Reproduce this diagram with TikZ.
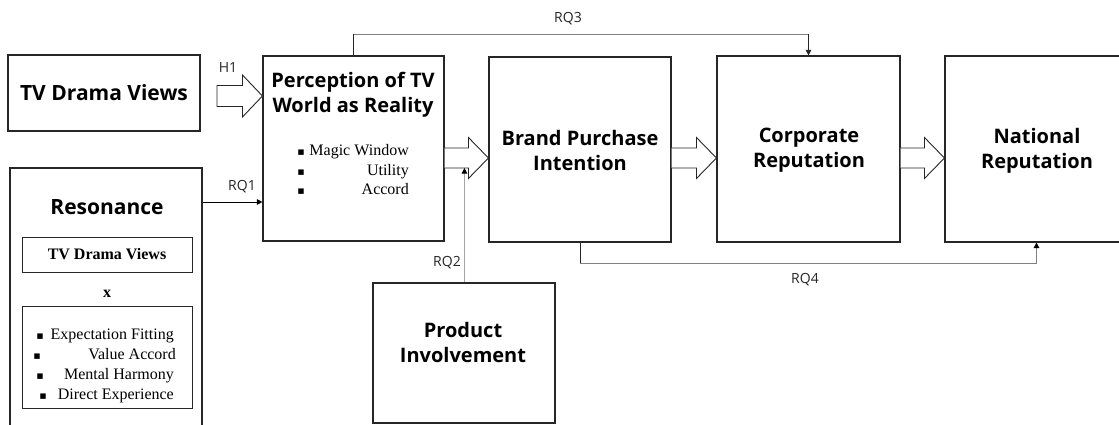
\documentclass[tikz,border=0pt]{standalone}
\usepackage{fontspec}
\setmainfont{Liberation Serif}
\newfontfamily\sansf{Open Sans}
\newfontfamily\symf{DejaVu Sans}
\usetikzlibrary{arrows.meta,calc}
\newcommand\blkarrow[2]{%
  \draw[blk] ($(#1)+(0,-10)$) -- ($(#2)+(-20,-10)$) -- ($(#2)+(-20,-20.5)$) -- (#2)
    -- ($(#2)+(-20,20.5)$) -- ($(#2)+(-20,10)$) -- ($(#1)+(0,10)$);}
\begin{document}
\begin{tikzpicture}[x=1pt,y=-1pt,
  box/.style={draw=black!85, line width=1.1pt, fill=white, inner sep=0pt},
  ttl/.style={font=\sansf\bfseries\fontsize{20}{25}\selectfont, align=center, inner sep=0pt},
  lab/.style={font=\sansf\fontsize{14}{16}\selectfont, inner sep=0pt, text=black!85},
  itm/.style={font=\fontsize{16}{18}\selectfont, inner sep=0pt, anchor=east, text height=0.7em, text depth=0.2em},
  bul/.style={font=\symf\fontsize{11}{11}\selectfont, inner sep=0pt},
  blk/.style={draw=black!85, line width=0.9pt, fill=white, line join=miter},
  con/.style={line width=0.9pt},
  tip/.style={-{Triangle[width=5.5pt,length=5.5pt]}}
]
\useasboundingbox (0,0) rectangle (1119,425);

% boxes
\node[box, minimum width=192pt, minimum height=76pt] (tv) at (104,93) {};
\node[box, minimum width=192pt, minimum height=284pt] (res) at (106,310) {};
\node[box, minimum width=170pt, minimum height=35pt, line width=0.9pt] (resin1) at (107,254.5) {};
\node[box, minimum width=170pt, minimum height=102pt, line width=0.9pt] (resin2) at (107,357) {};
\node[box, minimum width=181pt, minimum height=185pt] (perc) at (353.5,148.5) {};
\node[box, minimum width=182pt, minimum height=185pt] (brand) at (580,149.5) {};
\node[box, minimum width=183pt, minimum height=186pt] (corp) at (808.5,149) {};
\node[box, minimum width=183pt, minimum height=186pt] (nat) at (1036.5,149) {};
\node[box, minimum width=182pt, minimum height=140pt] (prod) at (464,353) {};

% titles
\node[ttl, font=\sansf\bfseries\fontsize{21}{25}\selectfont] (tvt) at (104,93) {TV Drama Views};
\node[ttl, font=\sansf\bfseries\fontsize{21}{25}\selectfont] (rest) at (107,207) {Resonance};
\node[ttl] (perct) at (353,95) {Perception of TV\\World as Reality};
\node[ttl] (brandt) at (580,150.5) {Brand Purchase\\Intention};
\node[ttl] (corpt) at (809,150.5) {Corporate\\Reputation};
\node[ttl] (natt) at (1037,150.5) {National\\Reputation};
\node[ttl] (prodt) at (463,342.5) {Product\\Involvement};

% resonance contents
\node[font=\bfseries\fontsize{16}{18}\selectfont, inner sep=0pt] (rtv) at (107,254.5) {TV Drama Views};
\node[font=\bfseries\fontsize{16}{18}\selectfont, inner sep=0pt] (rx) at (107,294) {x};
\node[bul] (rb1) at (40,337) {▪};
\node[itm] (ri1) at (174,337) {Expectation Fitting};
\node[bul] (rb2) at (37,357) {▪};
\node[itm] (ri2) at (176,357) {Value Accord};
\node[bul] (rb3) at (40,377) {▪};
\node[itm] (ri3) at (174,377) {Mental Harmony};
\node[bul] (rb4) at (43,397) {▪};
\node[itm] (ri4) at (174,397) {Direct Experience};

% perception contents
\node[bul] (pb1) at (301,153) {▪};
\node[itm] (pi1) at (409,153) {Magic Window};
\node[bul] (pb2) at (301,173) {▪};
\node[itm] (pi2) at (409,173) {Utility};
\node[bul] (pb3) at (301,192) {▪};
\node[itm] (pi3) at (409,192) {Accord};

% block arrows
\coordinate (h1s) at (217,96);
\coordinate (h1t) at (perc.west |- h1s);
\draw[blk] ($(h1s)+(0,-10.5)$) -- ($(h1t)+(-20,-10.5)$) -- ($(h1t)+(-20,-21)$) -- (h1t)
  -- ($(h1t)+(-20,21)$) -- ($(h1t)+(-20,10.5)$) -- ($(h1s)+(0,10.5)$) -- cycle;
\coordinate (a1s) at (perc.east |- 0,158);
\coordinate (a1t) at (brand.west |- 0,158);
\blkarrow{a1s}{a1t}
\coordinate (a2s) at (brand.east |- 0,158);
\coordinate (a2t) at (corp.west |- 0,158);
\blkarrow{a2s}{a2t}
\coordinate (a3s) at (corp.east |- 0,158);
\coordinate (a3t) at (nat.west |- 0,158);
\blkarrow{a3s}{a3t}

% connectors
\draw[con, tip, black] (res.east |- 0,202) -- (perc.west |- 0,202);
\coordinate (rq3a) at ($(perc.north)+(0,-21)$);
\coordinate (rq3b) at (corp.north |- rq3a);
\draw[con, black!85] (perc.north) -- (rq3a);
\draw[line width=1.6pt, black!50] (rq3a) -- (rq3b);
\draw[con, tip, black!85] (rq3b) -- (corp.north);
\coordinate (rq4a) at ($(brand.south)+(0,21)$);
\coordinate (rq4b) at (nat.south |- rq4a);
\draw[con, black!85] (brand.south) -- (rq4a);
\draw[line width=1.2pt, black!50] (rq4a) -- (rq4b);
\draw[line width=1.2pt, black!50, -{Triangle[width=5.5pt,length=5.5pt,color=black]}] (rq4b) -- (nat.south);
\coordinate (rq2e) at ($(a1t)+(-24,10)$);
\draw[line width=1pt, black!35, -{Triangle[width=5.5pt,length=5.5pt,color=black]}] (prod.north -| rq2e) -- (rq2e);

% labels
\node[lab] (lh1) at (228,68) {H1};
\node[lab] (lrq1) at (242,187) {RQ1};
\node[lab] (lrq2) at (447,263) {RQ2};
\node[lab] (lrq3) at (568,19) {RQ3};
\node[lab] (lrq4) at (805,280) {RQ4};
\end{tikzpicture}
\end{document}
